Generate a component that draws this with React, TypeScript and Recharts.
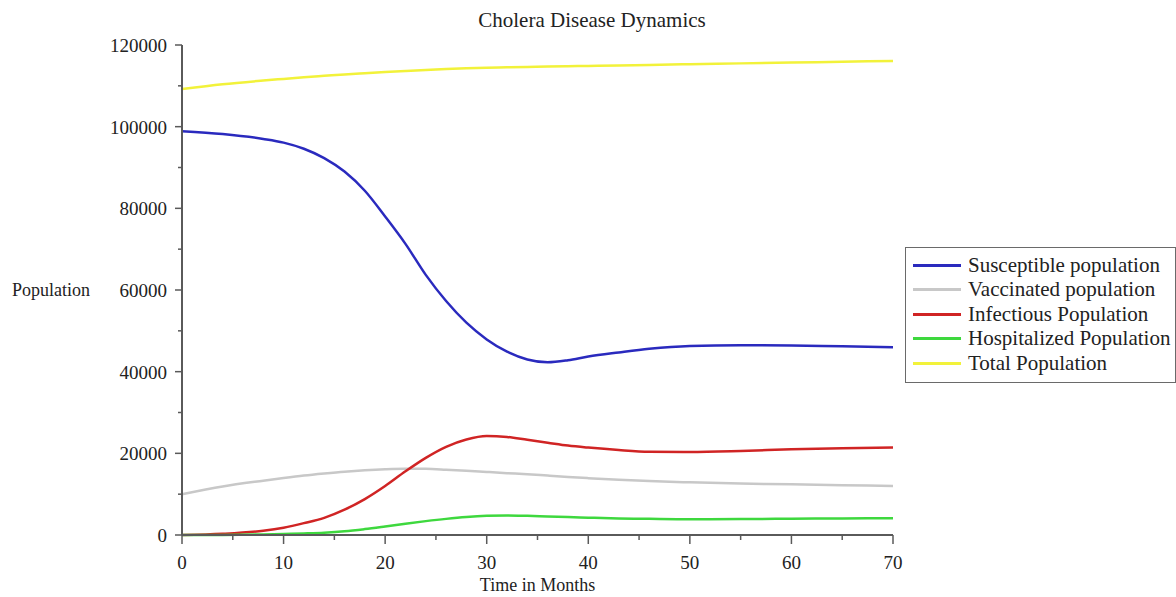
import React from 'react';
import { LineChart, Line, XAxis, YAxis, Legend } from 'recharts';

const months = [0, 4, 8, 10, 12, 14, 16, 18, 20, 22, 24, 26, 28, 30, 32, 34, 36, 38, 40, 43, 46, 50, 55, 60, 65, 70];
const susceptible = [98900, 98200, 97000, 96100, 94600, 92300, 89000, 84300, 78000, 71300, 63700, 57300, 52000, 47900, 44900, 43000, 42300, 42800, 43700, 44700, 45600, 46300, 46500, 46400, 46200, 46000];
const vaccinated = [10000, 11900, 13300, 13950, 14550, 15050, 15500, 15850, 16100, 16230, 16200, 16000, 15750, 15450, 15150, 14880, 14550, 14220, 13920, 13520, 13200, 12900, 12600, 12400, 12200, 12000];
const infectious = [0, 300, 1050, 1800, 2900, 4200, 6200, 8800, 12000, 15600, 18900, 21600, 23400, 24250, 24000, 23300, 22600, 21900, 21400, 20800, 20400, 20350, 20600, 21000, 21250, 21400];
const hospitalized = [0, 30, 130, 250, 380, 560, 900, 1450, 2100, 2780, 3400, 3950, 4400, 4700, 4800, 4700, 4550, 4400, 4250, 4050, 3950, 3850, 3900, 4000, 4050, 4100];
const total = [109200, 110400, 111300, 111700, 112100, 112450, 112800, 113100, 113380, 113630, 113880, 114100, 114280, 114420, 114530, 114630, 114720, 114800, 114880, 115000, 115130, 115300, 115500, 115700, 115900, 116100];

const xTicks = [0, 5, 10, 15, 20, 25, 30, 35, 40, 45, 50, 55, 60, 65, 70];
const yTicks = [0, 10000, 20000, 30000, 40000, 50000, 60000, 70000, 80000, 90000, 100000, 110000, 120000];

const SERIES = [
  { key: 'susceptible', name: 'Susceptible population', color: '#2a2abe' },
  { key: 'vaccinated', name: 'Vaccinated population', color: '#c8c8c8' },
  { key: 'infectious', name: 'Infectious Population', color: '#d02424' },
  { key: 'hospitalized', name: 'Hospitalized Population', color: '#3ed83e' },
  { key: 'total', name: 'Total Population', color: '#f2f23a' },
];

const data = months.map((t, i) => ({
  t,
  susceptible: susceptible[i],
  vaccinated: vaccinated[i],
  infectious: infectious[i],
  hospitalized: hospitalized[i],
  total: total[i],
}));

const FONT = '"Liberation Serif", "Times New Roman", serif';
const AXIS = '#5a5a5a';

const XTick = ({ x, y, payload }: any) => {
  const major = payload.value % 10 === 0;
  return (
    <g>
      <line x1={x} x2={x} y1={y} y2={y + (major ? 9 : 5)} stroke={AXIS} strokeWidth={1.5} />
      {major && (
        <text x={x} y={y + 34} textAnchor="middle" fontSize={19} fontFamily={FONT} fill="#222">
          {payload.value}
        </text>
      )}
    </g>
  );
};

const YTick = ({ x, y, payload }: any) => {
  const major = payload.value % 20000 === 0;
  return (
    <g>
      <line x1={x - (major ? 7 : 4)} x2={x} y1={y} y2={y} stroke={AXIS} strokeWidth={1.5} />
      {major && (
        <text x={x - 15} y={y + 7} textAnchor="end" fontSize={19} fontFamily={FONT} fill="#222">
          {payload.value}
        </text>
      )}
    </g>
  );
};

const LegendBox = () => (
  <div
    style={{
      border: '1.5px solid #6a6a6a',
      padding: '5px 0 6px 0',
      fontFamily: FONT,
      fontSize: 21,
      color: '#222',
      background: '#fff',
      boxSizing: 'border-box',
      width: 271,
    }}
  >
    {SERIES.map((s) => (
      <div key={s.key} style={{ display: 'flex', alignItems: 'center', height: 24.5 }}>
        <span style={{ display: 'inline-block', width: 48, height: 3, background: s.color, marginLeft: 7, marginRight: 7, flexShrink: 0 }} />
        <span style={{ whiteSpace: 'nowrap' }}>{s.name}</span>
      </div>
    ))}
  </div>
);

export default function App() {
  return (
    <div style={{ position: 'relative', width: 1176, height: 597, background: '#fff', overflow: 'hidden' }}>
      <style>{'body{margin:0;background:#fff}'}</style>
      <div
        style={{
          position: 'absolute',
          left: 392,
          top: 10,
          width: 400,
          textAlign: 'center',
          fontFamily: FONT,
          fontSize: 21,
          lineHeight: '20px',
          color: '#222',
        }}
      >
        Cholera Disease Dynamics
      </div>
      <LineChart width={1176} height={597} data={data} margin={{ top: 45, right: 283, left: 0, bottom: 0 }}>
        <XAxis
          dataKey="t"
          type="number"
          domain={[0, 70]}
          ticks={xTicks}
          interval={0}
          tick={<XTick />}
          tickLine={false}
          tickSize={0}
          tickMargin={0}
          height={62}
          axisLine={{ stroke: AXIS, strokeWidth: 2 }}
          label={{ value: 'Time in Months', position: 'insideBottom', offset: 6, fontSize: 18, fontFamily: FONT, fill: '#222' }}
        />
        <YAxis
          type="number"
          domain={[0, 120000]}
          ticks={yTicks}
          interval={0}
          tick={<YTick />}
          tickLine={false}
          tickSize={0}
          tickMargin={0}
          width={182}
          axisLine={{ stroke: AXIS, strokeWidth: 2 }}
          label={{ value: 'Population', position: 'insideLeft', offset: 12, fontSize: 18, fontFamily: FONT, fill: '#222' }}
        />
        <Legend
          layout="vertical"
          align="center"
          verticalAlign="middle"
          content={<LegendBox />}
          wrapperStyle={{ left: 905, top: 247, width: 271 }}
        />
        {SERIES.map((s) => (
          <Line
            key={s.key}
            type="monotone"
            dataKey={s.key}
            name={s.name}
            stroke={s.color}
            strokeWidth={2.5}
            dot={false}
            activeDot={false}
            isAnimationActive={false}
          />
        ))}
      </LineChart>
    </div>
  );
}
